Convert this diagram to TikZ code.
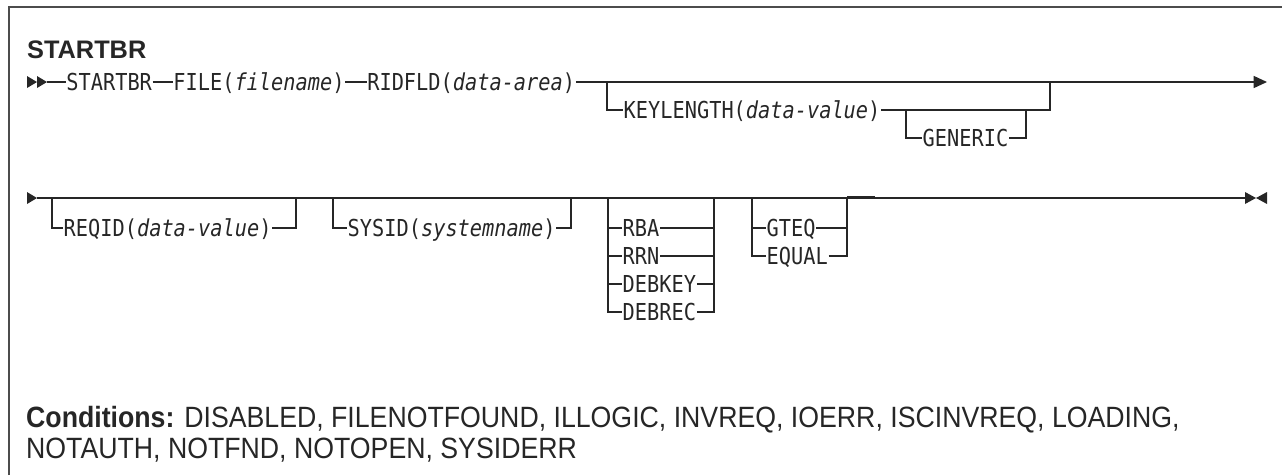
\documentclass[tikz,border=0pt]{standalone}
\usepackage{fontspec}
\setmainfont{Liberation Sans}
\newfontfamily\railfam[FakeStretch=0.87,ItalicFont={DejaVu Sans Mono Oblique}]{DejaVu Sans Mono}
\newfontfamily\condfam[FakeStretch=0.91]{Liberation Sans}
\newcommand\railfont{\railfam\fontsize{17.5pt}{19pt}\selectfont}
\usetikzlibrary{positioning,arrows.meta}

\begin{document}
\begin{tikzpicture}[x=0.75pt,y=-0.75pt,line width=1.1pt,color=black!85,
  kw/.style={inner sep=0pt,text height=13.5pt,text depth=0.7pt,font=\railfont},
  cnd/.style={font=\condfam\fontsize{22pt}{24pt}\selectfont},
  every node/.style={anchor=west}]
 \useasboundingbox (0,0) rectangle (1282,475);
 \draw[line width=1.5pt,black!70] (9,475)--(9,7)--(1282,7);
 \node[font=\fontsize{19pt}{21pt}\selectfont\bfseries] (title) at (22,50) {STARTBR};
 % first line
 \fill (27,76)--(37,82)--(27,88)--cycle (37,76)--(47,82)--(37,88)--cycle;
 \coordinate (beg1) at (47,82); \coordinate (end1) at (1267,82);
 \node[kw,right=14pt of beg1] (cmd) {STARTBR};
 \node[kw,right=15pt of cmd] (file) {FILE(\textit{filename})};
 \node[kw,right=16pt of file] (rid) {RIDFLD(\textit{data-area})};
 \draw (beg1)--(cmd) (cmd)--(file) (file)--(rid);
 \draw[-{Triangle[length=10pt,width=9pt]}] (rid)--(end1);
 \coordinate (k0) at (607,82); \coordinate (k1) at (1050,82);
 \node[kw] (klen) at (623,110) {KEYLENGTH(\textit{data-value})};
 \coordinate (g0) at (906,110); \coordinate (g1) at (1026,110);
 \node[kw] (gen) at (922,138) {GENERIC};
 \draw (k0)|-(klen) (klen)-|(k1);
 \draw (g0)|-(gen) (gen)-|(g1);
 % second line
 \fill (27,192)--(37,198)--(27,204)--cycle;
 \coordinate (beg2) at (37,198); \coordinate (end2) at (1245,198);
 \draw (beg2)--(end2);
 \fill (1245,192)--(1256,198)--(1245,204)--cycle (1267,192)--(1256,198)--(1267,204)--cycle;
 \node[kw] (req) at (63,228) {REQID(\textit{data-value})};
 \node[kw] (sys) at (347,228) {SYSID(\textit{systemname})};
 \coordinate (r0) at (52,198); \coordinate (r1) at (296,198);
 \coordinate (s0) at (333,198); \coordinate (s1) at (571,198);
 \draw (r0)|-(req) (req)-|(r1);
 \draw (s0)|-(sys) (sys)-|(s1);
 \foreach \w/\y in {RBA/228,RRN/256,DEBKEY/284,DEBREC/312}
   \node[kw] (\w) at (622,\y) {\w};
 \coordinate (a0) at (608,198); \coordinate (a1) at (714,198);
 \draw (a0)|-(DEBREC) (DEBREC)-|(a1);
 \foreach \w in {RBA,RRN,DEBKEY} \draw (a0|-\w)--(\w) (\w)--(a1|-\w);
 \node[kw] (gteq) at (766,228) {GTEQ};
 \node[kw] (equal) at (766,256) {EQUAL};
 \coordinate (q0) at (752,198); \coordinate (q1) at (847,198);
 \draw (q0)|-(equal) (equal)-|(q1);
 \draw (q0|-gteq)--(gteq) (gteq)--(q1|-gteq);
 \coordinate (q2) at (875,197.5);
 \draw[line width=1.7pt] (q1|-q2)--(q2);
 % conditions
 \node[cnd] (cond) at (21,420)
   {\textbf{Conditions:} DISABLED, FILENOTFOUND, ILLOGIC, INVREQ, IOERR, ISCINVREQ, LOADING,};
 \node[cnd] (cond2) at (21,450) {NOTAUTH, NOTFND, NOTOPEN, SYSIDERR};
\end{tikzpicture}
\end{document}
